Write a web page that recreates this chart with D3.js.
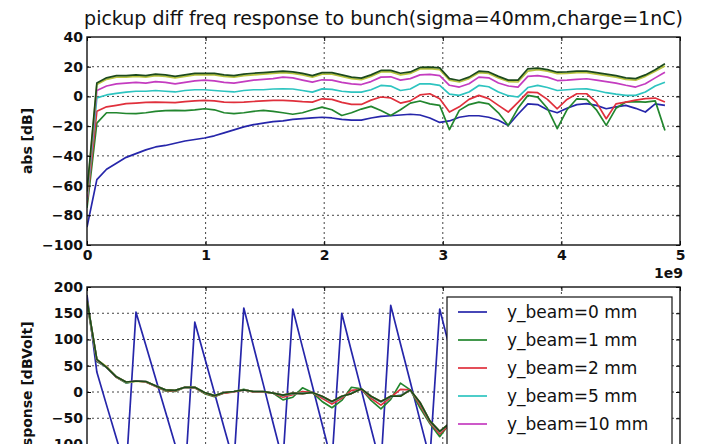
<!DOCTYPE html>
<html lang="en">
<head>
<meta charset="utf-8">
<title>pickup diff freq response to bunch</title>
<script src="https://d3js.org/d3.v7.min.js"></script>
<style>
  body { margin: 0; background: #fff; }
  svg { display: block; font-family: "DejaVu Sans", sans-serif; }
</style>
</head>
<body>
<script>
// frequency samples, GHz (axis is shown in units of 1e9)
var freq = [0, 0.083, 0.165, 0.248, 0.330, 0.413, 0.496, 0.578, 0.661, 0.743,
  0.826, 0.909, 0.991, 1.074, 1.156, 1.239, 1.322, 1.404, 1.487, 1.569,
  1.652, 1.735, 1.817, 1.900, 1.982, 2.065, 2.148, 2.230, 2.313, 2.395,
  2.478, 2.561, 2.643, 2.726, 2.808, 2.891, 2.974, 3.056, 3.139, 3.221,
  3.304, 3.387, 3.469, 3.552, 3.634, 3.717, 3.800, 3.882, 3.965, 4.047,
  4.130, 4.213, 4.295, 4.378, 4.460, 4.543, 4.626, 4.708, 4.791, 4.873];

var xTicks = [0, 1, 2, 3, 4, 5];
var absTicks = [-100, -80, -60, -40, -20, 0, 20, 40];
var respTicks = [-200, -150, -100, -50, 0, 50, 100, 150, 200];

// top panel: abs [dB]
var absB = [-88, -56, -49, -45, -41, -38.5, -36, -34, -33, -31.5,
  -30, -29, -28, -26.5, -24.5, -22.5, -20.5, -19, -18, -17,
  -16.5, -15.5, -15, -14.5, -14, -14.5, -15.5, -16, -16, -14.5,
  -13.4, -13, -12.5, -12, -12.5, -14.5, -17.5, -16.5, -14, -13,
  -13, -14, -16, -19.5, -12, -5, -5.5, -9, -11, -8,
  -5.5, -4.9, -6, -8.3, -7, -6, -8, -10.5, -5, -6];
var absG = [-75, -18, -11, -11, -11.5, -11.6, -11, -10, -9.5, -9.4,
  -9.5, -9, -8.3, -9, -11, -11.6, -11, -10, -9.4, -10,
  -11, -12, -11, -9, -7.2, -9, -12.8, -11, -8.5, -6.7,
  -9.5, -12.8, -9, -4.5, -3.1, -5, -6, -22.4, -9.4, -5.5,
  -3.8, -5, -11, -19.5, -8, 0.7, -0.5, -8, -21.7, -9,
  -1.6, -2, -9, -19.5, -8, -3.8, -3.5, -3.8, -3, -23];
var absR = [-72, -10, -7, -6, -4.9, -4.5, -4, -3.8, -4, -4.2,
  -3.5, -3, -2.7, -3, -3.8, -4, -3.8, -3.4, -3, -2.7,
  -2.7, -3, -3.5, -3.8, -1.6, -2, -4, -5.4, -5.4, -2.5,
  -0.4, -1, -4.5, -3, 1, 1.8, -1.6, -10.5, -7, -2,
  0.7, -1.5, -6, -10.5, -4, 2.9, 2.5, -2, -8.3, -2,
  1.8, 1.8, -4, -15, -5, -3.8, -2.5, -1.5, -1.1, -3.8];
var absC = [-70, -1, 1, 2, 2.9, 3.5, 3.5, 4, 3.5, 3,
  4, 4.5, 4.5, 4, 3.5, 3, 4, 4.5, 4.5, 5,
  5.1, 5, 4, 2.9, 5.1, 4.8, 3.5, 2.9, 2.9, 4.5,
  7.4, 7, 4, 5, 8.5, 8.5, 7.4, 1.5, 0.7, 3,
  7.4, 6.5, 3, 0.5, -0.4, 6, 7.4, 6, 4, 4.5,
  5, 5.1, 4, 2.5, 1.5, 0.7, 0.7, 3, 7, 9.6];
var absM = [-68, 4, 7, 8.5, 9, 9.5, 9, 10, 9.5, 8.5,
  9.5, 10.5, 11, 10.5, 9.5, 9, 10, 11, 11.5, 12,
  13, 12.5, 11, 9.6, 11.2, 11, 9.5, 8.5, 8, 10,
  13, 13.2, 11, 12, 14.5, 14.8, 14, 7.5, 6.3, 8.5,
  13, 12.5, 9, 7, 6.3, 13.5, 14, 13, 10.7, 11,
  11.5, 11.9, 11, 10, 9, 7.5, 6.3, 8.5, 12.5, 16.3];
var absY = [-66, 8, 11.5, 13, 13, 13.5, 13, 14, 13.5, 12.5,
  13.5, 14.5, 14.5, 14.5, 13.5, 13, 14, 14.5, 15, 15.5,
  16, 15.5, 14.5, 13, 15, 15, 13.5, 12, 11.3, 13.5,
  16.5, 16.5, 14.5, 15.5, 18.5, 18.7, 18, 11, 9.7, 12,
  16, 15.5, 12.5, 10, 9.7, 17, 18, 17, 15.3, 15.5,
  16, 16, 15, 14, 13, 11.5, 11, 13.5, 17, 20.5];
var absK = [-64, 9, 12.5, 14, 14, 14.5, 14, 15, 14.5, 13.5,
  14.5, 15.5, 15.6, 15.5, 14.5, 14, 15, 15.6, 16, 16.5,
  17, 16.5, 15.5, 14, 16, 16, 14.5, 13, 12.3, 14.5,
  17.5, 17.5, 15.6, 16.5, 19.5, 19.7, 19.2, 12, 10.7, 13,
  17, 16.5, 13.5, 11, 11, 18.6, 19, 18, 16.3, 16.5,
  17, 17, 16, 15, 14, 12.5, 12, 14.5, 18, 22];

// bottom panel: response [dBVolt] (visible part of the picture)
var respB = [185, 38, -25, -88, -150, 152, 89, 26, -37, -100,
  -163, 133, 66, -1, -68, -135, 160, 87, 14, -59,
  -132, 158, 85, 12, -61, -134, 150, 77, 4, -69,
  -142, 165, 92, 19, -54, -127, 158, 85, 12, -61, -134];
var respG = [168, 58, 47, 28, 17, 21, 19, 11, 2, 1,
  9, 8, -3, -9, -2, 1, 5, 0, 0, -2,
  -15, -10, 8, -1, -18, -30, -16, 9, 6, -16,
  -32, -14, 17, 4, -30, -60, -85, -60, -45, -35, -30];
var respR = [172, 60, 48, 28, 18, 21, 19, 11, 3, 2,
  9, 8, -2, -8, -2, 0, 4, 0, 0, -2,
  -10, -5, 1, -1, -12, -23, -12, 3, 5, -12,
  -25, -10, 5, 4, -25, -58, -80, -62, -45, -35, -30];
var respC = [174, 61, 47, 29, 18, 21, 20, 12, 4, 3,
  9, 9, -1, -7, -1, 1, 4, 1, 1, -2,
  -7, -3, -2, -1, -9, -19, -9, -2, 6, -9,
  -19, -9, -6, 4, -21, -56, -76, -60, -45, -35, -30];
var respM = [174, 61, 47, 29, 19, 21, 20, 12, 4, 3,
  9, 9, -1, -7, -1, 1, 4, 1, 1, -2,
  -6, -2, -3, -1, -8, -18, -8, -3, 6, -8,
  -18, -8, -7, 4, -20, -55, -75, -60, -45, -35, -30];
var respY = [175, 62, 48, 29, 19, 20, 20, 12, 4, 3,
  9, 9, -1, -7, -1, 1, 4, 1, 1, -2,
  -6, -2, -3, -1, -8, -18, -8, -3, 6, -8,
  -18, -8, -8, 4, -20, -55, -75, -60, -45, -35, -30];
var respK = [175, 62, 47, 29, 19, 21, 20, 12, 4, 3,
  9, 9, -1, -7, -1, 1, 4, 1, 1, -2,
  -6, -2, -3, -1, -8, -18, -8, -3, 6, -8,
  -18, -8, -8, 4, -20, -55, -75, -60, -45, -35, -30];

var colors = ["#2626aa", "#22862e", "#e0303c", "#2ec4c0", "#c43cc0", "#b8c440", "#1c4a1c"];
var legendLabels = ["y_beam=0 mm", "y_beam=1 mm", "y_beam=2 mm", "y_beam=5 mm", "y_beam=10 mm"];

var absSeries = [absB, absG, absR, absC, absM, absY, absK];
var respSeries = [respB, respG, respR, respC, respM, respY, respK];

var W = 701, H = 444;
var left = 87, right = 680;

var svg = d3.select("body").append("svg")
    .attr("width", W)
    .attr("height", H);

var x = d3.scaleLinear().domain([0, 5]).range([left, right]);

function fmt(d) {
    return d < 0 ? "\u2212" + Math.abs(d) : String(d);
}

function drawPanel(top, bottom, yDomain, yTicks, series, id) {
    var y = d3.scaleLinear().domain(yDomain).range([bottom, top]);
    var g = svg.append("g");

    g.append("clipPath").attr("id", id)
      .append("rect")
        .attr("x", left).attr("y", top)
        .attr("width", right - left).attr("height", bottom - top);

    // dotted grid
    g.selectAll(".vg").data(xTicks.slice(1, -1)).enter().append("line")
        .attr("x1", function(d) { return x(d); })
        .attr("x2", function(d) { return x(d); })
        .attr("y1", top).attr("y2", bottom);
    g.selectAll(".hg").data(yTicks.slice(1, -1)).enter().append("line")
        .attr("x1", left).attr("x2", right)
        .attr("y1", function(d) { return y(d); })
        .attr("y2", function(d) { return y(d); });
    g.selectAll("line")
        .attr("stroke", "#444")
        .attr("stroke-width", 1)
        .attr("stroke-dasharray", "2,3");

    var line = d3.line()
        .x(function(d, i) { return x(freq[i]); })
        .y(function(d) { return y(d); });

    g.append("g").attr("clip-path", "url(#" + id + ")")
      .selectAll("path").data(series).enter().append("path")
        .attr("d", line)
        .attr("fill", "none")
        .attr("stroke", function(d, i) { return colors[i]; })
        .attr("stroke-width", 1.7)
        .attr("stroke-linejoin", "round");

    // ticks point inwards on all four sides
    g.append("g").attr("transform", "translate(" + left + ",0)")
        .call(d3.axisLeft(y).tickValues(yTicks).tickSizeInner(-4).tickSizeOuter(0)
            .tickPadding(4).tickFormat(fmt));
    g.append("g").attr("transform", "translate(" + right + ",0)")
        .call(d3.axisRight(y).tickValues(yTicks).tickSizeInner(-4).tickSizeOuter(0)
            .tickFormat(""));
    g.append("g").attr("transform", "translate(0," + top + ")")
        .call(d3.axisTop(x).tickValues(xTicks).tickSizeInner(-4).tickSizeOuter(0)
            .tickFormat(""));
    g.append("g").attr("transform", "translate(0," + bottom + ")")
        .call(d3.axisBottom(x).tickValues(xTicks).tickSizeInner(-4).tickSizeOuter(0)
            .tickPadding(5).tickFormat(d3.format("d")));

    g.selectAll(".domain").remove();
    g.selectAll(".tick line").attr("stroke", "#000");
    g.selectAll(".tick text")
        .attr("font-family", "DejaVu Sans")
        .attr("font-size", 14)
        .attr("font-weight", "bold")
        .attr("fill", "#111");

    g.append("rect")
        .attr("x", left).attr("y", top)
        .attr("width", right - left).attr("height", bottom - top)
        .attr("fill", "none")
        .attr("stroke", "#111")
        .attr("stroke-width", 1.4);

    return y;
}

// top panel
drawPanel(37, 245, [-100, 40], absTicks, absSeries, "clipTop");

svg.append("text")
    .attr("x", (left + right) / 2)
    .attr("y", 25)
    .attr("text-anchor", "middle")
    .attr("font-size", 19)
    .attr("fill", "#111")
    .text("pickup diff freq response to bunch(sigma=40mm,charge=1nC)");

svg.append("text")
    .attr("transform", "translate(32,141) rotate(-90)")
    .attr("text-anchor", "middle")
    .attr("font-size", 14)
    .attr("font-weight", "bold")
    .attr("fill", "#111")
    .text("abs [dB]");

svg.append("text")
    .attr("x", 683)
    .attr("y", 278)
    .attr("text-anchor", "end")
    .attr("font-size", 14)
    .attr("font-weight", "bold")
    .attr("fill", "#111")
    .text("1e9");

// bottom panel (cut off by the window, as in the picture)
drawPanel(287, 497, [-200, 200], respTicks, respSeries, "clipBot");

svg.append("text")
    .attr("transform", "translate(32,392) rotate(-90)")
    .attr("text-anchor", "middle")
    .attr("font-size", 14)
    .attr("font-weight", "bold")
    .attr("fill", "#111")
    .text("response [dBVolt]");

// legend
var legend = svg.append("g").attr("transform", "translate(447,297)");
legend.append("rect")
    .attr("width", 225)
    .attr("height", 230)
    .attr("fill", "#fff")
    .attr("stroke", "#111")
    .attr("stroke-width", 1.2);

var item = legend.selectAll(".item").data(legendLabels).enter().append("g")
    .attr("transform", function(d, i) { return "translate(0," + (15 + i * 28) + ")"; });
item.append("line")
    .attr("x1", 11).attr("x2", 40)
    .attr("stroke", function(d, i) { return colors[i]; })
    .attr("stroke-width", 1.7);
item.append("text")
    .attr("x", 60)
    .attr("dy", "0.35em")
    .attr("font-size", 17)
    .attr("fill", "#111")
    .text(function(d) { return d; });
</script>
</body>
</html>
